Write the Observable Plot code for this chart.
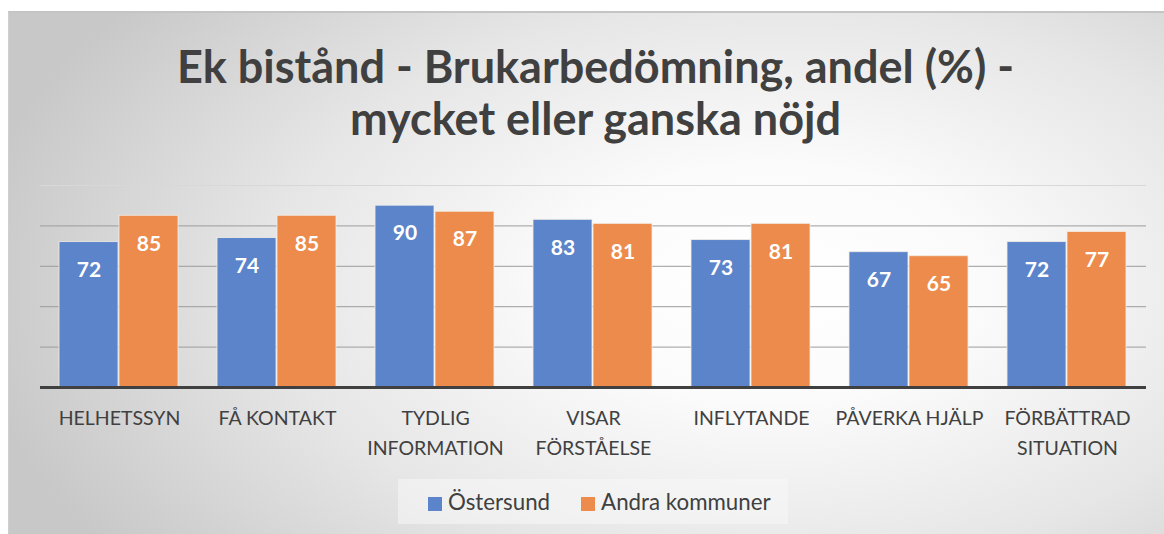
<!DOCTYPE html>
<html>
<head>
<meta charset="utf-8">
<script src="https://cdn.jsdelivr.net/npm/d3@7"></script>
<script src="https://cdn.jsdelivr.net/npm/@observablehq/plot@0.6"></script>
<style>
  html, body { margin: 0; padding: 0; background: #ffffff; }
  #page { position: relative; width: 1164px; height: 534px; overflow: hidden; background: #fff; }
  #frame {
    position: absolute; left: 8px; top: 11px; width: 1156px; height: 523px;
    box-sizing: border-box; border-top: 2px solid #c4c4c4; border-left: 1px solid #cfcfcf;
    background: radial-gradient(ellipse 70% 88% at 66% 52%, #ffffff 0%, #fbfbfb 26%, #e6e6e6 62%, #c8c8c8 100%);
    font-family: Lato, "Open Sans", sans-serif; color: #404040;
  }
  #title {
    position: absolute; left: 18px; right: 0; top: 27px;
    text-align: center; font-weight: bold; font-size: 45px; line-height: 52px; color: #404040;
  }
  #chart { position: absolute; left: 0; top: 157px; }
  #legend {
    position: absolute; left: 389px; top: 466px; width: 390px; height: 45px;
    background: rgba(248,248,248,0.55);
    display: flex; align-items: center; justify-content: flex-start; padding-left: 30px; box-sizing: border-box;
    gap: 31px; font-size: 22.3px; color: #404040;
  }
  .sw { display: inline-block; width: 14px; height: 14px; margin-right: 6px; vertical-align: -1px; box-sizing: border-box; }
</style>
</head>
<body>
<div id="page">
  <div id="frame">
    <div id="title">Ek bistånd - Brukarbedömning, andel (%) -<br>mycket eller ganska nöjd</div>
    <div id="chart"></div>
    <div id="legend"></div>
  </div>
</div>
<script>
const categories = ["HELHETSSYN", "FÅ KONTAKT", "TYDLIG INFORMATION", "VISAR FÖRSTÅELSE", "INFLYTANDE", "PÅVERKA HJÄLP", "FÖRBÄTTRAD SITUATION"];
const categoryLabels = ["HELHETSSYN", "FÅ KONTAKT", "TYDLIG\nINFORMATION", "VISAR\nFÖRSTÅELSE", "INFLYTANDE", "PÅVERKA HJÄLP", "FÖRBÄTTRAD\nSITUATION"];
const series = ["Östersund", "Andra kommuner"];
const ostersund = [72, 74, 90, 83, 73, 67, 72];
const andraKommuner = [85, 85, 87, 81, 81, 65, 77];
const gridTicks = [20, 40, 60, 80];
const topTick = [100];
const colors = ["#5b84ca", "#ec8b4b"];

const data = [];
categories.forEach((c, i) => {
  data.push({category: c, series: series[0], value: ostersund[i]});
  data.push({category: c, series: series[1], value: andraKommuner[i]});
});
const labelData = categories.map((c, i) => ({category: c, label: categoryLabels[i]}));

const chart = Plot.plot({
  width: 1139,
  height: 300,
  marginLeft: 29,
  marginRight: 1,
  marginTop: 15,
  marginBottom: 83,
  style: {background: "transparent", fontFamily: "Lato, 'Open Sans', sans-serif", color: "#404040"},
  fx: {domain: categories, padding: 0, axis: null, label: null},
  x: {domain: series, paddingInner: 0.015, paddingOuter: 0.31, axis: null},
  y: {domain: [0, 100], axis: null},
  color: {domain: series, range: colors},
  marks: [
    Plot.ruleY(gridTicks, {stroke: "#9c9c9c", strokeWidth: 1}),
    Plot.ruleY(topTick, {stroke: "#d8d8d8", strokeWidth: 1}),
    Plot.barY(data, {fx: "category", x: "series", y: "value", fill: "series", stroke: "#f4efe9", strokeWidth: 1, strokeOpacity: 0.8}),
    Plot.text(data, {fx: "category", x: "series", y: "value", text: d => String(d.value), dy: 28, fill: "white", fontSize: 21, fontWeight: "bold"}),
    Plot.ruleY([0], {stroke: "#404040", strokeWidth: 3}),
    Plot.text(labelData, {fx: "category", frameAnchor: "bottom", text: "label", lineAnchor: "top", dy: 17, lineHeight: 1.5, fontSize: 19.5, fill: "#404040"})
  ]
});
document.getElementById("chart").appendChild(chart);

const legend = document.getElementById("legend");
series.forEach((s, i) => {
  const item = document.createElement("span");
  const sw = document.createElement("span");
  sw.className = "sw";
  sw.style.background = colors[i];
  item.appendChild(sw);
  item.appendChild(document.createTextNode(s));
  legend.appendChild(item);
});
</script>
</body>
</html>
